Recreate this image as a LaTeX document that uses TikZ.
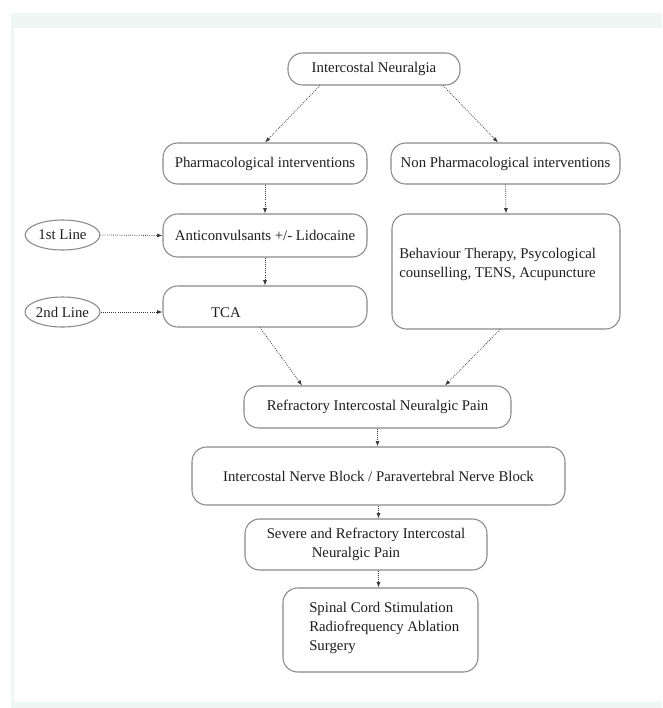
\documentclass[tikz,border=0pt]{standalone}
\usepackage{fontspec}
\setmainfont{Liberation Serif}
\usetikzlibrary{shapes.geometric,arrows.meta,calc,positioning}
\definecolor{tint}{HTML}{EEF7F3}
\definecolor{boxgray}{HTML}{8A8A8A}
\definecolor{txt}{HTML}{1E1E1E}
\definecolor{arrgray}{HTML}{3A3A3A}

\begin{document}
\begin{tikzpicture}[x=0.75pt,y=-0.75pt,line join=round,
  nodes={font=\fontsize{11.1}{14.25}\selectfont},
  box/.style={draw=boxgray,line width=0.8pt,rounded corners=11pt,text=txt,inner sep=0pt,align=center},
  oval/.style={ellipse,draw=boxgray,line width=0.8pt,text=txt,inner sep=0pt,minimum width=56pt,minimum height=22.5pt},
  lbl/.style={text=txt,inner sep=0pt,align=left,anchor=west},
  arr/.style={densely dotted,draw=arrgray,line width=0.6pt,-{Latex[length=4pt,width=3pt]}}]
\useasboundingbox (0,0) rectangle (662,708);
\fill[tint] (11,13) rectangle (662,708);
\fill[white] (14,28) rectangle (662,702);
% boxes
\node[box,minimum width=129pt,minimum height=24pt] (N) at (374,69) {Intercostal Neuralgia};
\node[box,minimum width=153pt,minimum height=30.75pt] (P) at (265,163.5) {Pharmacological interventions};
\node[box,minimum width=171.75pt,minimum height=30.75pt] (NP) at (505.5,163.5) {Non Pharmacological interventions};
\node[box,minimum width=153pt,minimum height=32.25pt] (A) at (265,235.5) {Anticonvulsants +/- Lidocaine};
\node[box,minimum width=153pt,minimum height=30.75pt] (T) at (265,306.5) {};
\node[lbl,anchor=center] (Tl) at (226,313) {TCA};
\node[box,minimum width=171pt,minimum height=86.25pt] (B) at (506,271.5) {};
\node[lbl] (Bl) at (399,264.5) {Behaviour Therapy, Psycological\\counselling, TENS, Acupuncture};
\node[oval] (L1) at (62.5,235) {1st Line};
\node[oval] (L2) at (62.5,312) {2nd Line};
\node[box,minimum width=200.25pt,minimum height=31.5pt] (R) at (377.5,407) {Refractory Intercostal Neuralgic Pain};
\node[box,minimum width=279.75pt,minimum height=43.5pt] (NB) at (378.5,476) {Intercostal Nerve Block / Paravertebral Nerve Block};
\node[box,align=left,minimum width=181.5pt,minimum height=38.25pt] (S) at (366,544.5) {Severe and Refractory Intercostal\\\hspace*{33.75pt}Neuralgic Pain};
\node[box,minimum width=146.25pt,minimum height=63pt] (SC) at (380.5,630) {};
\node[lbl] (SCl) at (309,628) {Spinal Cord Stimulation\\Radiofrequency Ablation\\Surgery};
% arrows
\draw[arr] ([xshift=-40.5pt]N.south) -- (P.north);
\draw[arr] ([xshift=51.75pt]N.south) -- ([xshift=-5.6pt]NP.north);
\draw[arr] ([xshift=-3.75pt]T.south) -- ([xshift=-56.6pt]R.north);
\draw[arr] ([xshift=-4.5pt]B.south) -- ([xshift=50.6pt]R.north);
\foreach \a/\b in {P.south/A.north,A.south/T.north,NP.south/B.north,L1.east/A.west,R.south/R.south |- NB.north,NB.south/NB.south |- S.north,NB.south |- S.south/NB.south |- SC.north}{\draw[arr] (\a) -- (\b);}
\draw[arr] (L2.east) -- (L2.east -| T.west);
\end{tikzpicture}
\end{document}
